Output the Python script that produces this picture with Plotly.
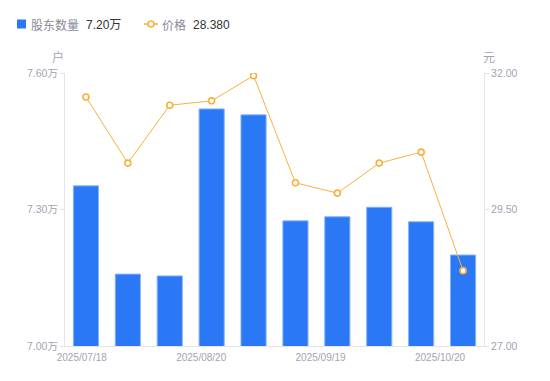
import plotly.graph_objects as go

# ---- data ----
idx = list(range(10))
holders = [7.352, 7.158, 7.154, 7.521, 7.508, 7.275, 7.284, 7.305, 7.273, 7.20]   # 万户
price = [31.56, 30.35, 31.41, 31.49, 31.95, 29.99, 29.80, 30.35, 30.55, 28.38]   # 元
xtick_labels = ["2025/07/18", "2025/08/20", "2025/09/19", "2025/10/20"]
y1_ticks = [7.00, 7.30, 7.60]
y2_ticks = [27.00, 29.50, 32.00]

BLUE = "#2A78F6"
ORANGE = "#F9B13A"
GRAY = "#A3A3B3"
AXIS = "#E3E3E8"
FONT = "Liberation Sans, Noto Sans CJK SC, sans-serif"

# page body has an 8px margin -> figure drawn 8px smaller, plot area placed to match window pixels
W, H = 542, 373
L, T, PW, PH = 57, 65, 419, 273

fig = go.Figure()
fig.add_trace(go.Bar(
    x=idx, y=holders, yaxis="y", marker=dict(color=BLUE, line=dict(color="#86B3FA", width=1)),
    base=0, showlegend=False,
))
fig.add_trace(go.Scatter(
    x=idx, y=price, yaxis="y2", mode="lines+markers",
    line=dict(color=ORANGE, width=1),
    marker=dict(symbol="circle", size=6, color="white", line=dict(color=ORANGE, width=1.6)),
    showlegend=False,
))

fig.update_layout(
    width=W, height=H,
    margin=dict(l=L, r=W - L - PW, t=T, b=H - T - PH, autoexpand=False),
    paper_bgcolor="white", plot_bgcolor="white",
    font=dict(family=FONT, size=11, color=GRAY),
    bargap=0.40,
    xaxis=dict(
        range=[-0.5, 9.5], showgrid=False, zeroline=False,
        showline=True, linecolor=AXIS, linewidth=1,
        tickvals=[-0.1, 2.75, 5.6, 8.45], ticktext=xtick_labels,
        ticks="", ticklabelstandoff=2, tickfont=dict(size=10, color=GRAY),
    ),
    yaxis=dict(
        range=[7.0, 7.6], showgrid=False, zeroline=False,
        showline=True, linecolor=AXIS, linewidth=1,
        tickvals=y1_ticks, ticktext=[f"{v:.2f}万" for v in y1_ticks],
        ticks="outside", ticklen=4, tickcolor=AXIS,
        tickfont=dict(size=10.5, color=GRAY),
    ),
    yaxis2=dict(
        range=[27.0, 32.0], overlaying="y", side="right", showgrid=False, zeroline=False,
        showline=True, linecolor=AXIS, linewidth=1,
        tickvals=y2_ticks, ticktext=[f"{v:.2f}" for v in y2_ticks],
        ticks="outside", ticklen=4, tickcolor=AXIS,
        tickfont=dict(size=10.5, color=GRAY),
    ),
)

# window-pixel -> paper coords (plot area spans window x 65..484, y 73..346)
def px(xp):
    return (xp - 65) / PW

def py(yp):
    return (346 - yp) / PH

def note(x, y, text, size, color, xanchor="center"):
    fig.add_annotation(x=px(x), y=py(y), xref="paper", yref="paper", text=text, showarrow=False,
                       xanchor=xanchor, yanchor="middle", borderpad=0,
                       font=dict(size=size, color=color))

# axis unit titles
note(58, 58, "户", 12, GRAY)
note(489, 58, "元", 12, GRAY)

# custom legend
fig.add_shape(type="rect", xref="paper", yref="paper",
              x0=px(17), x1=px(26), y0=py(28.5), y1=py(19.5),
              fillcolor=BLUE, line=dict(width=0))
note(30, 25.5, "股东数量", 12, "#8A8A99", "left")
note(85, 25.5, f"{holders[-1]:.2f}万", 12, "#333333", "left")
fig.add_shape(type="line", xref="paper", yref="paper",
              x0=px(144), x1=px(158), y0=py(24), y1=py(24),
              line=dict(color=ORANGE, width=1.5))
fig.add_shape(type="circle", xref="paper", yref="paper",
              x0=px(148), x1=px(154), y0=py(27), y1=py(21),
              fillcolor="white", line=dict(color=ORANGE, width=1.6))
note(161, 25.5, "价格", 12, "#8A8A99", "left")
note(192, 25.5, f"{price[-1]:.3f}", 12, "#333333", "left")

fig.write_html("out.html")
